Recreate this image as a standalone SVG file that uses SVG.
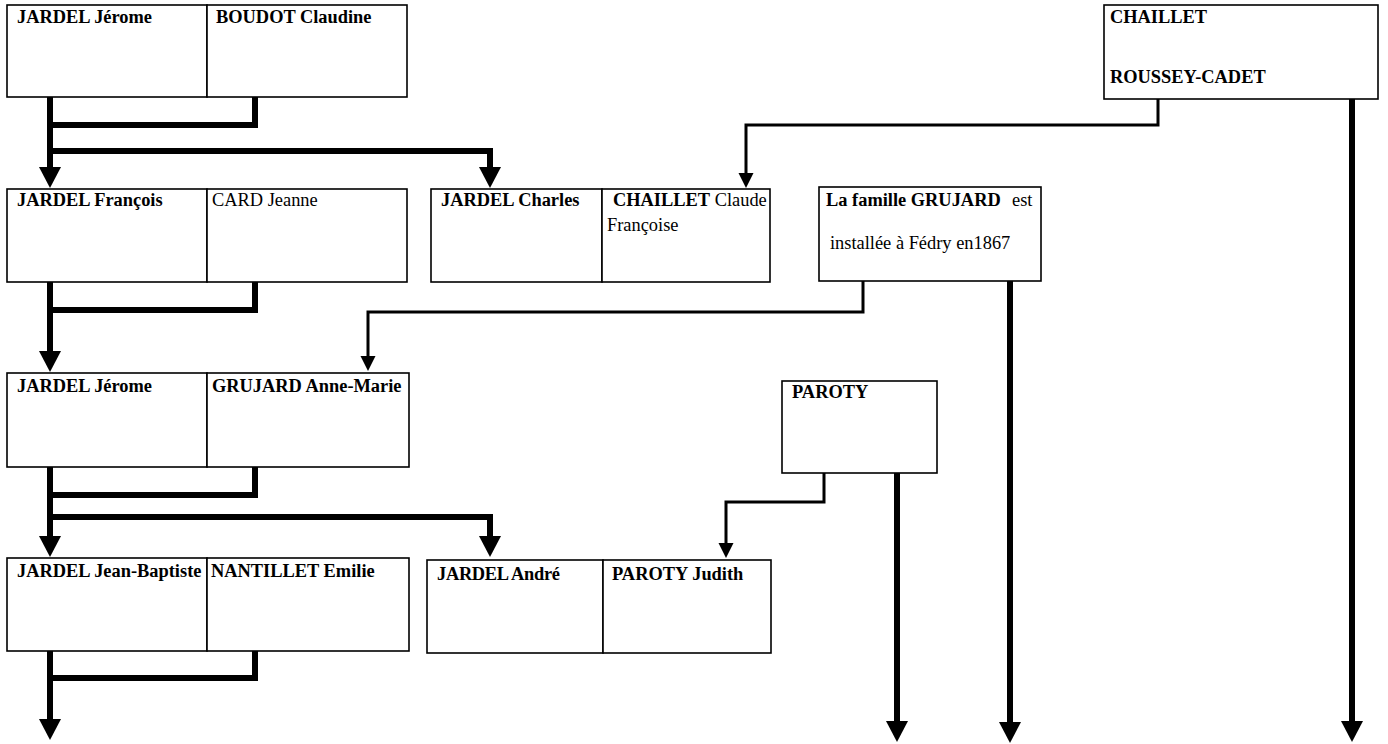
<svg xmlns="http://www.w3.org/2000/svg" width="1388" height="744" viewBox="0 0 1388 744">
<style>
.box{fill:#fff;stroke:#000;stroke-width:1.6}
text{font-family:"Liberation Serif","Times New Roman",serif;font-size:18.4px;fill:#000}
.b{font-weight:bold}
.thick{fill:none;stroke:#000;stroke-width:6;stroke-linejoin:miter}
.thin{fill:none;stroke:#000;stroke-width:3;stroke-linejoin:miter}
</style>
<defs>
<marker id="ah" viewBox="0 0 22 22" refX="1" refY="11" markerWidth="22" markerHeight="22" markerUnits="userSpaceOnUse" orient="auto">
<path d="M0,0 L21,11 L0,22 Z" fill="#000"/>
</marker>
<marker id="as" viewBox="0 0 16 16" refX="1" refY="8" markerWidth="16" markerHeight="16" markerUnits="userSpaceOnUse" orient="auto">
<path d="M0,0.5 L15,8 L0,15.5 Z" fill="#000"/>
</marker>
</defs>
<rect width="1388" height="744" fill="#fff"/>
<g id="connectors">
<path class="thick" d="M50,97 V168" marker-end="url(#ah)"/>
<path class="thick" d="M255,97 V125 H47"/>
<path class="thick" d="M50,151 H490 V168" marker-end="url(#ah)"/>
<path class="thin" d="M1158,99 V125 H746 V174" marker-end="url(#as)"/>
<path class="thick" d="M1352,99 V722" marker-end="url(#ah)"/>
<path class="thin" d="M863,281 V312 H368 V357" marker-end="url(#as)"/>
<path class="thick" d="M1010,281 V723" marker-end="url(#ah)"/>
<path class="thick" d="M50,282 V352" marker-end="url(#ah)"/>
<path class="thick" d="M255,282 V310 H47"/>
<path class="thick" d="M50,467 V537" marker-end="url(#ah)"/>
<path class="thick" d="M255,467 V495 H47"/>
<path class="thick" d="M50,517 H490 V537" marker-end="url(#ah)"/>
<path class="thin" d="M824,473 V502 H726 V544" marker-end="url(#as)"/>
<path class="thick" d="M897,473 V722" marker-end="url(#ah)"/>
<path class="thick" d="M50,651 V720" marker-end="url(#ah)"/>
<path class="thick" d="M255,651 V678 H47"/>
</g>
<g id="n-jardel-jerome-boudot">
<rect class="box" x="7" y="5" width="200" height="92"/>
<rect class="box" x="207" y="5" width="200" height="92"/>
<text class="b" x="17" y="23">JARDEL Jérome</text>
<text class="b" x="216" y="23">BOUDOT Claudine</text>
</g>
<g id="n-chaillet-roussey">
<rect class="box" x="1104" y="5" width="274" height="94"/>
<text class="b" x="1110" y="23">CHAILLET</text>
<text class="b" x="1110" y="83">ROUSSEY-CADET</text>
</g>
<g id="n-jardel-francois-card">
<rect class="box" x="7" y="189" width="200" height="93"/>
<rect class="box" x="207" y="189" width="200" height="93"/>
<text class="b" x="17" y="206">JARDEL François</text>
<text x="212" y="206">CARD Jeanne</text>
</g>
<g id="n-jardel-charles-chaillet">
<rect class="box" x="431" y="189" width="171" height="93"/>
<rect class="box" x="602" y="189" width="168" height="93"/>
<text class="b" x="441" y="206">JARDEL Charles</text>
<text x="613" y="206"><tspan class="b">CHAILLET</tspan> Claude</text>
<text x="607" y="231">Françoise</text>
</g>
<g id="n-grujard">
<rect class="box" x="819" y="187" width="222" height="94"/>
<text x="826" y="206"><tspan class="b">La famille GRUJARD</tspan></text>
<text x="1012" y="206">est</text>
<text x="830" y="249">installée à Fédry en1867</text>
</g>
<g id="n-jardel-jerome-grujard">
<rect class="box" x="7" y="373" width="200" height="94"/>
<rect class="box" x="207" y="373" width="202" height="94"/>
<text class="b" x="17" y="392">JARDEL Jérome</text>
<text class="b" x="212" y="392">GRUJARD Anne-Marie</text>
</g>
<g id="n-paroty">
<rect class="box" x="782" y="381" width="155" height="92"/>
<text class="b" x="792" y="398">PAROTY</text>
</g>
<g id="n-jardel-jean-baptiste-nantillet">
<rect class="box" x="7" y="558" width="200" height="93"/>
<rect class="box" x="207" y="558" width="202" height="93"/>
<text class="b" x="17" y="577">JARDEL Jean-Baptiste</text>
<text class="b" x="211" y="577">NANTILLET Emilie</text>
</g>
<g id="n-jardel-andre-paroty">
<rect class="box" x="427" y="560" width="176" height="93"/>
<rect class="box" x="603" y="560" width="168" height="93"/>
<text class="b" x="437" y="580" letter-spacing="-0.3">JARDEL André</text>
<text class="b" x="612" y="580">PAROTY Judith</text>
</g>
</svg>
